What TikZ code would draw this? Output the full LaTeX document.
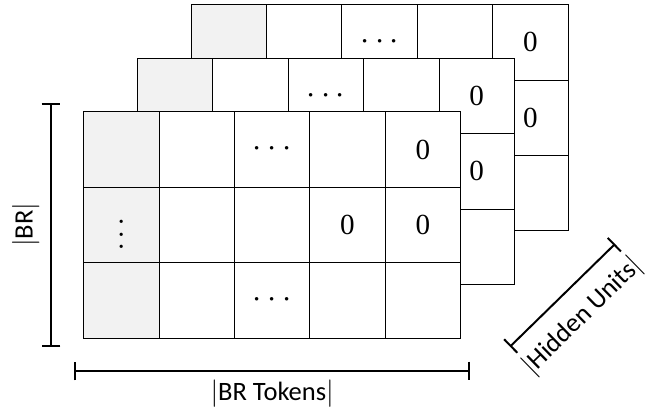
\documentclass[tikz,border=0pt]{standalone}
\usepackage{fontspec}
\usepackage{graphicx}
\usepackage{tikz}
\usetikzlibrary{arrows.meta}

\newfontfamily\labelfont{Carlito}
\newfontfamily\numfont{Liberation Serif}

\newcommand{\rowdots}{$\cdots$}
\newcommand{\coldots}{\scalebox{2.4}{\normalsize$\vdots$}}
\newcommand{\cellzero}{{\numfont\fontsize{22}{26}\selectfont 0}}

\begin{document}
\begin{tikzpicture}[
    x=2cm, y=2cm,
    cell/.style={rectangle, draw=black, fill=white, line width=0.7pt,
                 minimum size=2cm, inner sep=0pt, font=\Huge},
    lead/.style={cell, fill=black!5},
    span/.style={line width=1.5pt, {Bar[width=0.5cm]}-{Bar[width=0.5cm]}},
    dim/.style={font=\labelfont\fontsize{20}{24}\selectfont, inner sep=0pt}
]
\useasboundingbox (-1.109,-1.034) rectangle (7.459,4.483);

% three stacked layers, drawn back to front
\foreach \l in {2,1,0} {
  \foreach \r/\c/\kind/\val in {
      1/1/lead/{}, 1/2/cell/{}, 1/3/cell/\rowdots, 1/4/cell/{}, 1/5/cell/\cellzero,
      2/1/lead/\coldots, 2/2/cell/{}, 2/3/cell/{}, 2/4/cell/\cellzero, 2/5/cell/\cellzero,
      3/1/lead/{}, 3/2/cell/{}, 3/3/cell/\rowdots, 3/4/cell/{}, 3/5/cell/{}}
    \node[\kind] (m\l-\r-\c) at (\c-0.5+0.713*\l, 3.5-\r+0.71*\l) {\val};
}

% dimension bars
\coordinate (br-lo)  at (-0.432,-0.12);
\coordinate (br-hi)  at (-0.432,3.12);
\coordinate (tok-l)  at (-0.123,-0.438);
\coordinate (tok-r)  at (5.125,-0.438);
\coordinate (hid-lo) at (5.655,-0.115);
\coordinate (hid-hi) at (7.048,1.247);

\draw[span] (br-lo) -- node[dim, sloped, above=8pt] (br) {$|$BR$|$} (br-hi);
\draw[span] (tok-l) -- node[dim, below=6pt] (tok) {$|$BR Tokens$|$} (tok-r);
\draw[span] (hid-lo) -- node[dim, sloped, below=11pt] (hid) {$|$Hidden Units$|$} (hid-hi);
\end{tikzpicture}
\end{document}
